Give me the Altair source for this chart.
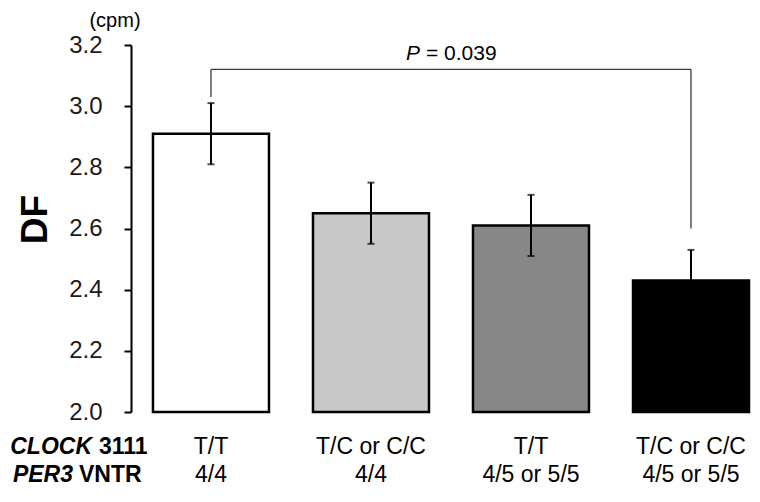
import pandas as pd
import altair as alt

# data
groups = ["g1", "g2", "g3", "g4"]
clock_labels = ["T/T", "T/C or C/C", "T/T", "T/C or C/C"]
per3_labels = ["4/4", "4/4", "4/5 or 5/5", "4/5 or 5/5"]
df_means = [2.91, 2.65, 2.61, 2.43]
df_se = [0.10, 0.10, 0.10, 0.10]
bar_colors = ["#ffffff", "#c8c8c8", "#878787", "#000000"]

y_ticks = [2.0, 2.2, 2.4, 2.6, 2.8, 3.0, 3.2]
bracket_top = 3.12
bracket_left_low = 3.03
bracket_right_low = 2.60
p_value = "= 0.039"

FONT = "Liberation Sans"
W, H = 621, 367

bars = pd.DataFrame({
    "group": groups,
    "mean": df_means,
    "base": [y_ticks[0]] * len(groups),
    "lo": [m - s for m, s in zip(df_means, df_se)],
    "hi": [m + s for m, s in zip(df_means, df_se)],
    "clock": clock_labels,
    "per3": per3_labels,
})

x_scale = alt.Scale(domain=groups, paddingInner=0.275, paddingOuter=0.078, align=0.88)
y_scale = alt.Scale(domain=[y_ticks[0], y_ticks[-1]], nice=False, zero=False)
x_enc = alt.X("group:N", scale=x_scale, axis=None)

base = alt.Chart(bars)

bar_layer = base.mark_bar(stroke="black", strokeWidth=2.5).encode(
    x=x_enc,
    y=alt.Y("mean:Q", scale=y_scale, axis=alt.Axis(
        values=y_ticks, format=".1f", title="DF",
        titleFontSize=37, titleFontWeight="bold", titleAngle=270,
        titleX=-96, titleY=174, titleAlign="center", titleBaseline="middle",
        titleColor="black", titleFont=FONT,
        labelFontSize=24, labelPadding=22, labelColor="#1a1a1a", labelFont=FONT,
        tickSize=7, tickWidth=2, tickColor="black",
        domainWidth=2, domainColor="black", grid=False,
    )),
    y2="base:Q",
    color=alt.Color("group:N", scale=alt.Scale(domain=groups, range=bar_colors), legend=None),
)

err_rule = base.mark_rule(color="black", strokeWidth=2).encode(
    x=x_enc, y="lo:Q", y2="hi:Q"
)
err_lo = base.mark_tick(color="black", size=7, thickness=2).encode(x=x_enc, y="lo:Q")
err_hi = base.mark_tick(color="black", size=7, thickness=2).encode(x=x_enc, y="hi:Q")

# significance bracket between first and last group
bracket_h = alt.Chart(pd.DataFrame({"a": [groups[0]], "b": [groups[-1]], "y": [bracket_top]})).mark_rule(
    color="#3a3a3a", strokeWidth=1.3
).encode(x=alt.X("a:N", scale=x_scale, axis=None), x2="b:N", y="y:Q")

bracket_v = alt.Chart(pd.DataFrame({
    "a": [groups[0], groups[-1]],
    "low": [bracket_left_low, bracket_right_low],
    "top": [bracket_top, bracket_top],
})).mark_rule(color="#3a3a3a", strokeWidth=1.3).encode(
    x=alt.X("a:N", scale=x_scale, axis=None), y="low:Q", y2="top:Q"
)

p_data = alt.Chart(pd.DataFrame({"a": [groups[1]], "y": [bracket_top], "p": ["P"], "v": [p_value]}))
p_italic = p_data.mark_text(
    font=FONT, fontSize=21, fontStyle="italic", align="right", baseline="middle", dx=49, dy=-15, color="black"
).encode(x=alt.X("a:N", scale=x_scale, axis=None), y="y:Q", text="p:N")
p_rest = p_data.mark_text(
    font=FONT, fontSize=21, align="left", baseline="middle", dx=55, dy=-15, color="black"
).encode(x=alt.X("a:N", scale=x_scale, axis=None), y="y:Q", text="v:N")

# genotype labels under the bars
ROW1, ROW2 = H + 42, H + 70
clock_text = base.mark_text(font=FONT, fontSize=23, baseline="alphabetic", color="black").encode(
    x=x_enc, y=alt.value(ROW1), text="clock:N"
)
per3_text = base.mark_text(font=FONT, fontSize=23, baseline="alphabetic", color="black").encode(
    x=x_enc, y=alt.value(ROW2), text="per3:N"
)


def label(txt, x, y, align, style="normal", weight="bold", size=23):
    return alt.Chart(pd.DataFrame({"t": [txt]})).mark_text(
        font=FONT, fontSize=size, fontStyle=style, fontWeight=weight,
        align=align, baseline="alphabetic", color="black"
    ).encode(x=alt.value(x), y=alt.value(y), text="t:N")


row_titles = [
    label("CLOCK", -39, ROW1, "right", style="italic"),
    label("3111", -32, ROW1, "left"),
    label("PER3", -58, ROW2, "right", style="italic"),
    label("VNTR", -52, ROW2, "left"),
]

unit = alt.Chart(pd.DataFrame({"t": ["(cpm)"]})).mark_text(
    font=FONT, fontSize=20, baseline="middle", align="center", color="black"
).encode(x=alt.value(-16), y=alt.value(-24), text="t:N")

chart = alt.layer(
    bar_layer, err_rule, err_lo, err_hi, bracket_h, bracket_v, p_italic, p_rest,
    clock_text, per3_text, *row_titles, unit
).properties(
    width=W,
    height=H,
    autosize="none",
    padding={"left": 123, "top": 37, "right": 0, "bottom": 80},
).configure_view(stroke=None)

chart.save("out.html", embed_options={"renderer": "svg", "actions": False})
